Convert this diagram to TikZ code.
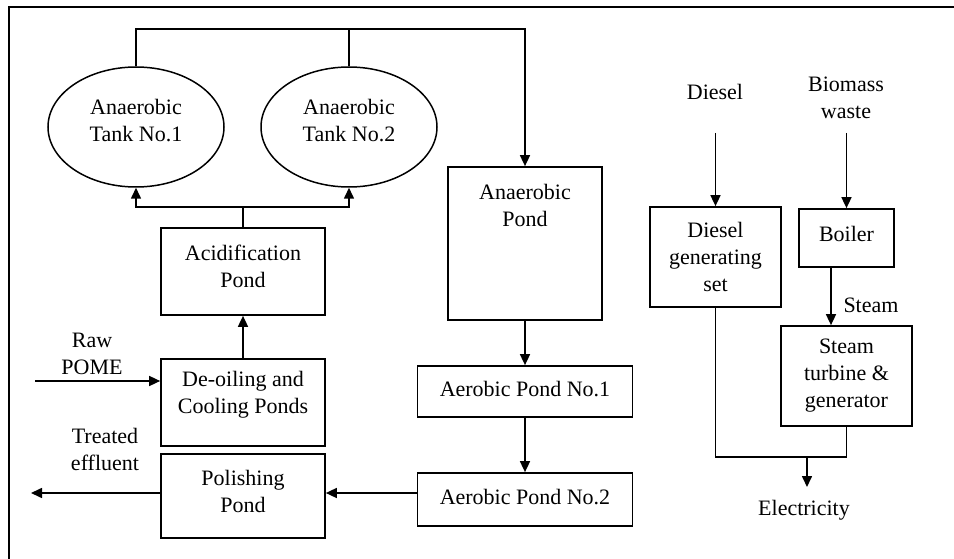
\documentclass[tikz,border=0pt]{standalone}
\usepackage{fontspec}
\setmainfont{Liberation Serif}
\usetikzlibrary{shapes.geometric,arrows.meta}
\begin{document}
\begin{tikzpicture}[x=1pt,y=-1pt,
  every node/.style={font=\fontsize{22}{27}\selectfont},
  box/.style={draw,line width=1.7pt,inner sep=0pt},
  tank/.style={draw,ellipse,line width=1.5pt,inner sep=0pt,minimum width=176,minimum height=120},
  txt/.style={align=center,inner sep=0pt},
  conn/.style={line width=1.6pt},
  arr/.style={line width=1.6pt,-{Triangle[length=11pt,width=10pt]}}]
\useasboundingbox (0,0) rectangle (954,559);
% frame
\draw[line width=1.8pt] (954,7) -- (9,7) -- (9,559);
% nodes
\node[tank] (tank1) at (136,127) {};
\node[tank] (tank2) at (349,127) {};
\node[txt] (ttank1) at (136,121) {Anaerobic\\Tank No.1};
\node[txt] (ttank2) at (349,121) {Anaerobic\\Tank No.2};
\node[box,minimum width=164,minimum height=87] (acid) at (243,271.5) {};
\node[txt] (tacid) at (243,266) {Acidification\\Pond};
\node[box,minimum width=164,minimum height=87] (deoil) at (243,402.5) {};
\node[txt] (tdeoil) at (243,395) {De-oiling and\\Cooling Ponds};
\node[box,minimum width=164,minimum height=84] (polish) at (243,496) {};
\node[txt] (tpolish) at (243,491) {Polishing\\Pond};
\node[box,minimum width=154,minimum height=153] (anpond) at (525,243.5) {};
\node[txt] (tanpond) at (525,205) {Anaerobic\\Pond};
\node[box,minimum width=215,minimum height=51] (aer1) at (525,391.5) {};
\node[txt] (taer1) at (525,389) {Aerobic Pond No.1};
\node[box,minimum width=215,minimum height=53] (aer2) at (525,499.5) {};
\node[txt] (taer2) at (525,497) {Aerobic Pond No.2};
\node[box,minimum width=131,minimum height=100] (dgen) at (715.5,257) {};
\node[txt] (tdgen) at (715.5,257) {Diesel\\generating\\set};
\node[box,minimum width=95,minimum height=58] (boiler) at (846.5,238) {};
\node[txt] (tboiler) at (846.5,234) {Boiler};
\node[box,minimum width=131,minimum height=100] (turb) at (846.5,376) {};
\node[txt] (tturb) at (846.5,376) {Steam\\turbine \&\\generator};
\node[txt] (raw) at (92,354) {Raw\\POME};
\node[txt] (treated) at (105,449) {Treated\\effluent};
\node[txt] (diesel) at (715,92) {Diesel};
\node[txt] (biomass) at (846,98) {Biomass\\waste};
\node[txt] (steam) at (871,305) {Steam};
\node[txt] (elec) at (804,510) {Electricity};
% coordinates
\coordinate (bus) at (136,29);
\coordinate (split) at (243,207);
\coordinate (rawin) at (35,381);
\coordinate (out) at (31,493);
\coordinate (dtop) at (715.5,133);
\coordinate (btop) at (846.5,133);
\coordinate (ej) at (807,457);
\coordinate (etip) at (807,487);
% connectors
\draw[arr] (tank1.north) -- (bus) -| (anpond.north);
\draw[conn] (tank2.north) -- (tank2.north |- bus);
\draw[conn] (acid.north) -- (split);
\draw[arr] (split) -| (tank1.south);
\draw[arr] (split) -| (tank2.south);
\draw[arr] (deoil.north) -- (acid.south);
\draw[arr] (rawin) -- (deoil.west |- rawin);
\draw[arr] (polish.west |- out) -- (out);
\draw[arr] (aer2.west |- out) -- (polish.east |- out);
\draw[arr] (anpond.south) -- (aer1.north);
\draw[arr] (aer1.south) -- (aer2.north);
\draw[arr] (dtop) -- (dgen.north);
\draw[arr] (btop) -- (boiler.north);
\draw[arr] ([xshift=-15.5pt]boiler.south) -- ([xshift=-15.5pt]turb.north);
\draw[conn] (dgen.south) |- (ej) -| (turb.south);
\draw[arr] (ej) -- (etip);
\end{tikzpicture}
\end{document}
